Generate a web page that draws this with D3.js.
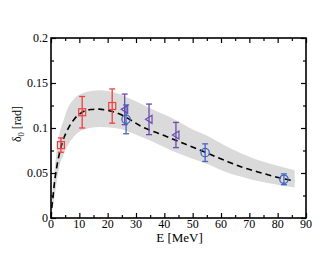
<!DOCTYPE html>
<html>
<head>
<meta charset="utf-8">
<script src="https://cdn.jsdelivr.net/npm/d3@7"></script>
<style>
  body { margin: 0; background: #fff; }
  text { font-family: "Liberation Serif", "DejaVu Serif", serif; }
</style>
</head>
<body>
<div id="chart"></div>
<script>
// theory curve (E, delta)
var curveE = [0, 0.3, 0.6, 1, 2, 3, 4, 6, 8, 11, 14, 17, 20, 23, 27, 32, 38, 44, 49, 54, 61, 67, 73, 79, 86];
var curveD = [0.0, 0.012, 0.02, 0.033, 0.056, 0.072, 0.084, 0.099, 0.109, 0.1175, 0.1205, 0.121, 0.1195, 0.117, 0.111, 0.1015, 0.094, 0.0865, 0.080, 0.0735, 0.0644, 0.057, 0.0512, 0.046, 0.041];
// uncertainty band
var bandE  = [0, 1, 2, 3, 4.4, 5.5, 8, 11.4, 17, 23, 29, 35, 44, 49, 56, 61, 67, 73, 80, 86];
var bandHi = [0.008, 0.045, 0.075, 0.094, 0.108, 0.119, 0.132, 0.139, 0.142, 0.139, 0.131, 0.122, 0.109, 0.100, 0.090, 0.081, 0.072, 0.0645, 0.058, 0.053];
var bandLo = [0.003, 0.018, 0.04, 0.058, 0.07, 0.078, 0.09, 0.098, 0.101, 0.0996, 0.094, 0.086, 0.073, 0.067, 0.059, 0.052, 0.046, 0.041, 0.037, 0.034];
// data sets
var redE = [3.5, 11.0, 21.6], redD = [0.081, 0.1175, 0.1244], redErr = [0.008, 0.0175, 0.019];
var purE = [26.0, 34.6, 44.1], purD = [0.1207, 0.1096, 0.0922], purErr = [0.017, 0.017, 0.014];
var bluE = [26.5, 54.4, 82.2], bluD = [0.1096, 0.0726, 0.043], bluErr = [0.016, 0.0098, 0.006];
var xTicks = [0, 10, 20, 30, 40, 50, 60, 70, 80, 90];
var yTicks = [0, 0.05, 0.1, 0.15, 0.2];

var W = 332, H = 257;
var m = {left: 51, top: 38, right: 26, bottom: 39};
var w = W - m.left - m.right, h = H - m.top - m.bottom;

var svg = d3.select("#chart").append("svg").attr("width", W).attr("height", H);
var g = svg.append("g").attr("transform", "translate(" + m.left + "," + m.top + ")");

var x = d3.scaleLinear().domain([0, 90]).range([0, w]);
var y = d3.scaleLinear().domain([0, 0.2]).range([h, 0]);

// band
var bandData = bandE.map(function(e, i) { return {e: e, lo: bandLo[i], hi: bandHi[i]}; });
g.append("path").datum(bandData)
  .attr("fill", "#dadada")
  .attr("d", d3.area().curve(d3.curveMonotoneX)
    .x(function(d) { return x(d.e); })
    .y0(function(d) { return y(d.lo); })
    .y1(function(d) { return y(d.hi); }));

// dashed curve
var lineData = curveE.map(function(e, i) { return [e, curveD[i]]; });
g.append("path").datum(lineData)
  .attr("fill", "none").attr("stroke", "#000").attr("stroke-width", 1.6)
  .attr("stroke-dasharray", "6,4")
  .attr("d", d3.line().curve(d3.curveMonotoneX)
    .x(function(d) { return x(d[0]); }).y(function(d) { return y(d[1]); }));

function errBars(es, ds, errs, color) {
  var grp = g.append("g").attr("stroke", color).attr("stroke-width", 1.3);
  es.forEach(function(e, i) {
    var cx = x(e), top = y(ds[i] + errs[i]), bot = y(ds[i] - errs[i]);
    grp.append("line").attr("x1", cx).attr("x2", cx).attr("y1", top).attr("y2", bot);
    grp.append("line").attr("x1", cx - 3).attr("x2", cx + 3).attr("y1", top).attr("y2", top);
    grp.append("line").attr("x1", cx - 3).attr("x2", cx + 3).attr("y1", bot).attr("y2", bot);
  });
}

errBars(redE, redD, redErr, "#ee4040");
errBars(purE, purD, purErr, "#6a4cb0");
errBars(bluE, bluD, bluErr, "#4466c0");

// red squares
g.selectAll(".sq").data(redE).enter().append("rect")
  .attr("x", function(d) { return x(d) - 3.5; })
  .attr("y", function(d, i) { return y(redD[i]) - 3.5; })
  .attr("width", 7).attr("height", 7)
  .attr("fill", "none").attr("stroke", "#ee4040").attr("stroke-width", 1.2);

// purple left triangles
g.selectAll(".tri").data(purE).enter().append("path")
  .attr("transform", function(d, i) { return "translate(" + x(d) + "," + y(purD[i]) + ")"; })
  .attr("d", "M-3.5,0L3,-4L3,4Z")
  .attr("fill", "none").attr("stroke", "#6a4cb0").attr("stroke-width", 1.2);

// blue circles
g.selectAll(".circ").data(bluE).enter().append("circle")
  .attr("cx", function(d) { return x(d); })
  .attr("cy", function(d, i) { return y(bluD[i]); })
  .attr("r", 4.2)
  .attr("fill", "none").attr("stroke", "#4466c0").attr("stroke-width", 1.3);

// axes with inward ticks
var xMinor = d3.range(5, 90, 10), yMinor = d3.range(0.025, 0.2, 0.05);
function ticks(axis, vals, len) {
  return axis.tickValues(vals).tickSize(-len).tickFormat("");
}
var axG = g.append("g").attr("class", "axes");
axG.append("g").attr("transform", "translate(0," + h + ")").call(ticks(d3.axisBottom(x), xTicks, 5));
axG.append("g").attr("transform", "translate(0," + h + ")").call(ticks(d3.axisBottom(x), xMinor, 3));
axG.append("g").call(ticks(d3.axisTop(x), xTicks, 5));
axG.append("g").call(ticks(d3.axisTop(x), xMinor, 3));
axG.append("g").call(ticks(d3.axisLeft(y), yTicks, 5));
axG.append("g").call(ticks(d3.axisLeft(y), yMinor, 3));
axG.append("g").attr("transform", "translate(" + w + ",0)").call(ticks(d3.axisRight(y), yTicks, 5));
axG.append("g").attr("transform", "translate(" + w + ",0)").call(ticks(d3.axisRight(y), yMinor, 3));
axG.selectAll(".domain").remove();
axG.selectAll("line").attr("stroke", "#000").attr("stroke-width", 1.2);

g.append("rect").attr("width", w).attr("height", h)
  .attr("fill", "none").attr("stroke", "#000").attr("stroke-width", 1.6);

// tick labels
g.selectAll(".xl").data(xTicks).enter().append("text")
  .attr("x", function(d) { return x(d); }).attr("y", h + 10)
  .attr("text-anchor", "middle").attr("font-size", 12).text(function(d) { return d; });
g.selectAll(".yl").data(yTicks).enter().append("text")
  .attr("x", -3).attr("y", function(d) { return y(d) + 4; })
  .attr("text-anchor", "end").attr("font-size", 12).text(function(d) { return d; });

// axis titles
g.append("text").attr("x", w / 2 + 1).attr("y", h + 24)
  .attr("text-anchor", "middle").attr("font-size", 13).text("E [MeV]");
var yt = svg.append("text").attr("transform", "translate(21," + (m.top + h / 2 - 4) + ") rotate(-90)")
  .attr("text-anchor", "middle").attr("font-size", 12);
yt.append("tspan").text("δ");
yt.append("tspan").attr("font-size", 8.5).attr("dy", 3).text("0");
yt.append("tspan").attr("dy", -3).text(" [rad]");
</script>
</body>
</html>
